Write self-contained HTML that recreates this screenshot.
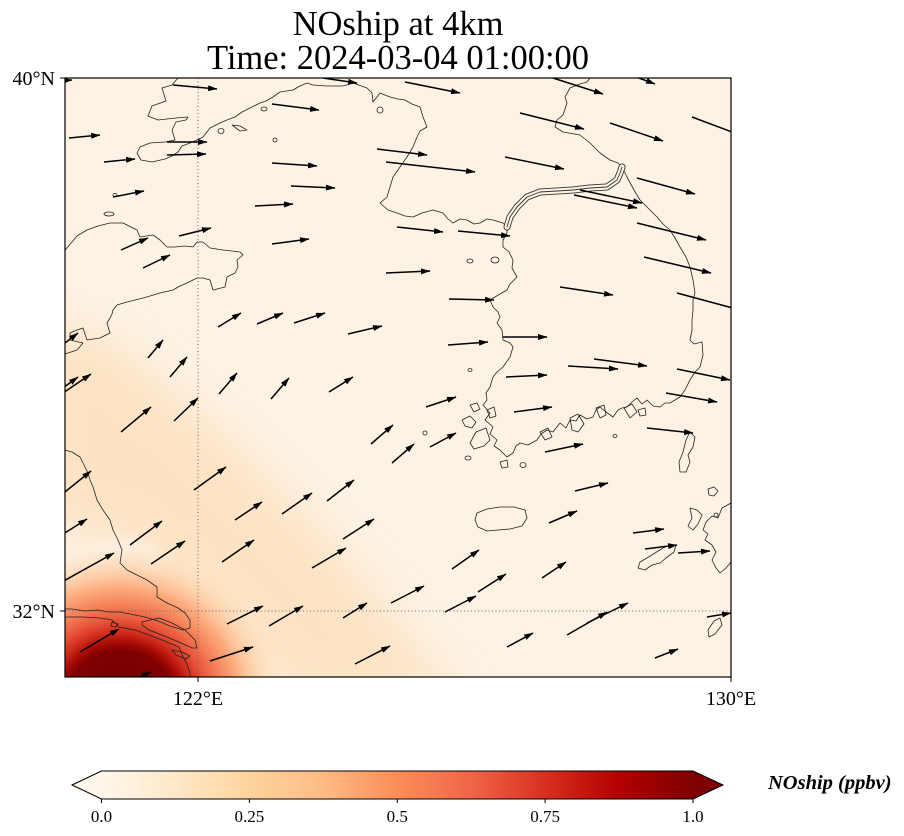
<!DOCTYPE html>
<html><head><meta charset="utf-8"><style>
html,body{margin:0;padding:0;background:#fff;}
svg{display:block;}
text{font-family:"Liberation Serif","Times New Roman",serif;fill:#000;}
</style></head><body>
<svg width="904" height="836" viewBox="0 0 904 836" xmlns="http://www.w3.org/2000/svg">
<defs>
<clipPath id="plot"><rect x="65" y="78" width="666" height="599"/></clipPath>
<filter id="blur" x="-50%" y="-50%" width="200%" height="200%"><feGaussianBlur stdDeviation="22"/></filter>
<filter id="blur2" x="-50%" y="-50%" width="200%" height="200%"><feGaussianBlur stdDeviation="6"/></filter>
<radialGradient id="hot" gradientUnits="userSpaceOnUse" cx="120" cy="705" r="150" gradientTransform="translate(120 705) scale(1.1 1.07) translate(-120 -705)">
<stop offset="0" stop-color="#700000"/>
<stop offset="0.34" stop-color="#800000"/>
<stop offset="0.39" stop-color="#a80a05"/>
<stop offset="0.45" stop-color="#cf2a1b"/>
<stop offset="0.53" stop-color="#e8553a"/>
<stop offset="0.63" stop-color="#f5835a"/>
<stop offset="0.73" stop-color="#fcab7c"/>
<stop offset="0.84" stop-color="#fdcca2" stop-opacity="0.75"/>
<stop offset="1" stop-color="#fde1be" stop-opacity="0"/>
</radialGradient>
<linearGradient id="cb" x1="101.5" y1="0" x2="693" y2="0" gradientUnits="userSpaceOnUse">
<stop offset="0" stop-color="#fff7ec"/>
<stop offset="0.125" stop-color="#fee8c8"/>
<stop offset="0.25" stop-color="#fdd49e"/>
<stop offset="0.375" stop-color="#fdbb84"/>
<stop offset="0.5" stop-color="#fc8d59"/>
<stop offset="0.625" stop-color="#ef6548"/>
<stop offset="0.75" stop-color="#d7301f"/>
<stop offset="0.875" stop-color="#b30000"/>
<stop offset="1" stop-color="#7f0000"/>
</linearGradient>
<marker id="ah" markerUnits="userSpaceOnUse" markerWidth="11" markerHeight="8" refX="9" refY="3.5" orient="auto">
<path d="M0,0.5 L9.5,3.5 L0,6.5 z" fill="#000"/>
</marker>
</defs>

<text x="398" y="35" font-size="34.5" text-anchor="middle">NOship at 4km</text>
<text x="398" y="69" font-size="34.5" text-anchor="middle">Time: 2024-03-04 01:00:00</text>

<g clip-path="url(#plot)">
<rect x="65" y="78" width="666" height="599" fill="#fdf2e4"/>
<polygon points="30,320 110,340 230,440 330,540 460,700 290,700 200,610 110,540 30,520" fill="#fde2c1" opacity="0.9" filter="url(#blur)"/>
<ellipse cx="125" cy="560" rx="35" ry="22" fill="#fdf0e1" opacity="0.8" filter="url(#blur2)"/>
<rect x="0" y="520" width="320" height="200" fill="url(#hot)"/>

<line x1="198" y1="78" x2="198" y2="677" stroke="#666" stroke-width="1" stroke-dasharray="1,2.5"/>
<line x1="65" y1="611" x2="731" y2="611" stroke="#666" stroke-width="1" stroke-dasharray="1,2.5"/>

<g fill="none" stroke="#222" stroke-width="0.8" stroke-linejoin="round">
<path d="M178,78 L172,85 L162,88 L166,101 L152,106 L148,116 L158,120 L176,118 L188,117 L186,120 L176,122 L172,130 L175,140 L165,142 L150,143 L140,147 L137,153 L141,160 L152,162 L165,159 L172,156 L178,152 L182,146 L190,143 L197,140 L203,137 L210,128 L220,123 L227,120 L235,117 L242,112 L250,108 L260,103 L266,101 L273,97 L280,92 L293,90 L300,86 L307,83 L313,85 L327,86 L343,86 L353,83 L367,88 L372,93 L373,102 L380,93 L390,97 L398,99 L405,100 L412,104 L420,107 L423,117 L427,127 L420,131 L417,137 L413,147 L410,152 L407,157 L400,167 L393,177 L390,187 L387,197 L380,203 L388,210 L397,213 L405,216 L413,217 L422,213 L433,210 L443,213 L448,219 L453,223 L460,219 L467,220 L474,224 L480,223 L487,219 L493,220 L503,223 L507,227"/>
<path d="M507,227 L507,233 L503,240 L503,247 L509,252 L513,260 L512,268 L517,277 L510,284 L507,290 L500,294 L495,297 L490,300 L493,307 L498,312 L500,317 L497,323 L502,330 L503,340 L510,343 L513,347 L510,357 L503,367 L497,372 L493,377 L490,387 L486,393 L487,400 L483,405 L490,413 L485,420 L493,427 L490,434 L497,440 L494,446 L500,450 L507,457 L513,453 L516,446 L520,443 L528,445 L537,440 L541,434 L547,430 L553,432 L560,423 L566,428 L570,420 L576,421 L580,415 L587,419 L593,417 L596,410 L600,407 L606,412 L613,417 L618,410 L622,408 L627,407 L632,402 L637,398 L642,404 L647,400 L653,406 L660,407 L665,403 L670,403 L675,400 L680,397 L685,390 L690,380 L695,372 L700,367 L703,355 L702,342 L694,344 L690,340 L692,330 L692,320 L693,310 L693,300 L695,293 L693,280 L690,267 L686,257 L680,247 L675,238 L670,230 L663,224 L657,217 L650,210 L640,200 L634,190 L627,177 L622,167 L618,163 L610,160 L600,153 L590,143 L580,135 L563,132 L555,127 L557,120 L563,115 L567,103 L565,97 L570,88 L580,84 L587,82 L590,78"/>
<path d="M65,250 L72,242 L77,236 L87,230 L98,226 L110,223 L123,223 L137,230 L140,237 L153,235 L160,240 L167,247 L175,247 L185,246 L193,247 L197,242 L203,242 L210,248 L223,250 L232,251 L240,252 L243,255 L237,260 L238,267 L235,273 L227,277 L225,287 L213,290 L210,280 L203,278 L197,278 L187,283 L180,286 L173,290 L160,293 L150,296 L143,298 L127,302 L117,305 L113,310 L112,314 L110,318 L107,323 L110,333 L100,338 L87,340 L83,328 L77,330 L70,333 L70,340 L83,343 L77,350 L65,354"/>
<path d="M65,450 L72,452 L80,457 L83,463 L88,473 L90,480 L93,487 L97,500 L103,510 L110,520 L113,530 L118,540 L122,550 L120,563 L127,570 L137,575 L147,580 L157,587 L157,597 L167,603 L178,608 L185,613 L190,620 L190,628 L183,630 L170,626 L158,621 L145,617 L130,614 L120,612 L108,612 L98,610 L85,611 L72,609 L65,609"/>
<path d="M65,617 L82,617 L100,618 L112,620 L119,627 L135,630 L149,635 L162,640 L179,647 L183,657 L187,664 L189,670 L191,678"/>
<path d="M142,622 L159,618 L172,623 L185,630 L195,640 L197,648 L192,648 L179,642 L162,635 L149,630 L142,625 Z"/>
<path d="M112,622 L118,624 L116,627 L111,626 Z"/>
<path d="M172,650 L182,652 L190,656 L186,659 L176,655 Z"/>
<path d="M477,513 L487,509 L500,507 L514,507 L525,510 L527,518 L522,526 L510,529 L498,530 L487,531 L478,527 L475,520 Z"/>
<path d="M690,432 L695,437 L693,447 L688,455 L690,462 L686,472 L680,472 L679,462 L683,452 L686,440 Z"/>
<path d="M731,503 L722,508 L718,518 L712,516 L706,522 L703,530 L708,534 L705,540 L712,545 L716,552 L712,560 L716,568 L720,573 L726,568 L731,562"/>
<path d="M690,508 L697,510 L702,515 L698,524 L693,530 L688,526 L692,518 Z"/>
<path d="M640,562 L647,558 L655,553 L663,548 L670,545 L676,545 L674,552 L666,558 L660,563 L652,565 L645,570 L638,568 Z"/>
<path d="M708,489 L714,487 L718,491 L714,496 L709,495 Z"/>
<path d="M714,621 L720,618 L722,625 L715,634 L709,637 L708,630 Z"/>
<ellipse cx="716" cy="515" rx="2" ry="2"/>
<ellipse cx="109" cy="214" rx="5" ry="2"/>
<ellipse cx="115" cy="195" rx="2" ry="1.5"/>
<ellipse cx="221" cy="131" rx="3" ry="2.5"/>
<path d="M232,125 L240,126 L247,130 L240,131 Z"/>
<ellipse cx="264" cy="109" rx="3" ry="2"/>
<ellipse cx="275" cy="140" rx="2" ry="2"/>
<ellipse cx="380" cy="110" rx="3" ry="3"/>
<ellipse cx="470" cy="261" rx="3" ry="2"/>
<ellipse cx="495" cy="260" rx="4" ry="3"/>
<ellipse cx="470" cy="370" rx="2" ry="1.5"/>
<path d="M470,405 L477,403 L480,409 L474,412 Z"/>
<path d="M462,420 L470,416 L476,422 L472,428 L465,426 Z"/>
<path d="M476,432 L486,428 L490,440 L484,446 L474,449 L470,443 Z"/>
<path d="M487,410 L494,407 L496,416 L490,418 Z"/>
<ellipse cx="468" cy="458" rx="3" ry="2"/>
<ellipse cx="425" cy="433" rx="2" ry="2"/>
<path d="M500,462 L507,460 L508,467 L502,468 Z"/>
<ellipse cx="523" cy="465" rx="3" ry="2.5"/>
<path d="M540,432 L548,428 L552,437 L545,440 Z"/>
<path d="M570,418 L578,414 L584,424 L578,432 L572,430 Z"/>
<path d="M596,408 L604,405 L606,415 L600,418 Z"/>
<path d="M624,408 L632,404 L637,412 L630,418 Z"/>
<path d="M638,410 L645,408 L646,415 L640,416 Z"/>
<ellipse cx="615" cy="436" rx="2" ry="1.5"/>
</g>
<g fill="none" stroke-linejoin="round" stroke-linecap="round">
<path d="M507,227 L510,217 L517,207 L527,197 L540,192 L557,191 L573,190 L590,188 L607,187 L617,180 L620,173 L622,167" stroke="#333" stroke-width="7"/>
<path d="M507,227 L510,217 L517,207 L527,197 L540,192 L557,191 L573,190 L590,188 L607,187 L617,180 L620,173 L622,167" stroke="#fdf2e4" stroke-width="5.2"/>
<path d="M507,227 L510,217 L517,207 L527,197 L540,192 L557,191 L573,190 L590,188 L607,187 L617,180 L620,173 L622,167" stroke="#333" stroke-width="0.9"/>
</g>

<g stroke="#000" stroke-width="1.5" fill="none" marker-end="url(#ah)">
<line x1="173" y1="85" x2="217" y2="89"/>
<line x1="272" y1="104" x2="319" y2="110"/>
<line x1="323" y1="78" x2="357" y2="83"/>
<line x1="405" y1="82" x2="460" y2="93"/>
<line x1="553" y1="78" x2="603" y2="94"/>
<line x1="628" y1="74" x2="655" y2="84"/>
<line x1="40" y1="82" x2="72" y2="80"/>
<line x1="69" y1="138" x2="100" y2="135"/>
<line x1="167" y1="142" x2="207" y2="142"/>
<line x1="167" y1="155" x2="206" y2="154"/>
<line x1="104" y1="162" x2="135" y2="159"/>
<line x1="113" y1="197" x2="144" y2="191"/>
<line x1="272" y1="163" x2="317" y2="166"/>
<line x1="291" y1="186" x2="335" y2="188"/>
<line x1="255" y1="206" x2="293" y2="204"/>
<line x1="179" y1="236" x2="211" y2="228"/>
<line x1="121" y1="250" x2="148" y2="238"/>
<line x1="143" y1="268" x2="170" y2="255"/>
<line x1="272" y1="244" x2="309" y2="239"/>
<line x1="377" y1="149" x2="427" y2="155"/>
<line x1="386" y1="162" x2="475" y2="172"/>
<line x1="505" y1="157" x2="564" y2="169"/>
<line x1="520" y1="113" x2="584" y2="129"/>
<line x1="610" y1="123" x2="663" y2="141"/>
<line x1="692" y1="117" x2="740" y2="135"/>
<line x1="637" y1="178" x2="695" y2="194"/>
<line x1="580" y1="190" x2="642" y2="203"/>
<line x1="574" y1="195" x2="637" y2="208"/>
<line x1="637" y1="223" x2="706" y2="240"/>
<line x1="644" y1="257" x2="711" y2="273"/>
<line x1="677" y1="293" x2="740" y2="310"/>
<line x1="560" y1="287" x2="613" y2="295"/>
<line x1="397" y1="227" x2="443" y2="232"/>
<line x1="458" y1="231" x2="510" y2="236"/>
<line x1="386" y1="273" x2="430" y2="271"/>
<line x1="449" y1="299" x2="494" y2="300"/>
<line x1="218" y1="327" x2="241" y2="313"/>
<line x1="257" y1="324" x2="283" y2="313"/>
<line x1="294" y1="323" x2="325" y2="313"/>
<line x1="348" y1="334" x2="382" y2="326"/>
<line x1="148" y1="358" x2="163" y2="340"/>
<line x1="170" y1="377" x2="187" y2="357"/>
<line x1="60" y1="390" x2="78" y2="377"/>
<line x1="60" y1="395" x2="91" y2="374"/>
<line x1="60" y1="347" x2="78" y2="333"/>
<line x1="219" y1="394" x2="237" y2="373"/>
<line x1="271" y1="399" x2="289" y2="378"/>
<line x1="329" y1="392" x2="353" y2="377"/>
<line x1="121" y1="432" x2="151" y2="407"/>
<line x1="174" y1="421" x2="198" y2="398"/>
<line x1="371" y1="444" x2="393" y2="425"/>
<line x1="392" y1="463" x2="414" y2="444"/>
<line x1="60" y1="496" x2="91" y2="471"/>
<line x1="194" y1="490" x2="226" y2="467"/>
<line x1="235" y1="520" x2="262" y2="502"/>
<line x1="282" y1="514" x2="312" y2="493"/>
<line x1="327" y1="501" x2="354" y2="480"/>
<line x1="448" y1="345" x2="488" y2="342"/>
<line x1="503" y1="337" x2="547" y2="337"/>
<line x1="506" y1="377" x2="547" y2="375"/>
<line x1="568" y1="366" x2="618" y2="369"/>
<line x1="594" y1="359" x2="647" y2="366"/>
<line x1="677" y1="369" x2="730" y2="380"/>
<line x1="666" y1="393" x2="717" y2="402"/>
<line x1="426" y1="407" x2="456" y2="397"/>
<line x1="514" y1="412" x2="552" y2="407"/>
<line x1="430" y1="447" x2="456" y2="433"/>
<line x1="647" y1="428" x2="693" y2="433"/>
<line x1="545" y1="452" x2="583" y2="444"/>
<line x1="575" y1="491" x2="608" y2="483"/>
<line x1="549" y1="523" x2="577" y2="511"/>
<line x1="633" y1="533" x2="664" y2="529"/>
<line x1="645" y1="549" x2="677" y2="545"/>
<line x1="678" y1="553" x2="710" y2="551"/>
<line x1="452" y1="569" x2="479" y2="550"/>
<line x1="542" y1="578" x2="566" y2="562"/>
<line x1="478" y1="592" x2="506" y2="574"/>
<line x1="391" y1="603" x2="424" y2="586"/>
<line x1="445" y1="612" x2="476" y2="596"/>
<line x1="343" y1="618" x2="367" y2="603"/>
<line x1="343" y1="539" x2="374" y2="519"/>
<line x1="567" y1="635" x2="607" y2="612"/>
<line x1="587" y1="623" x2="628" y2="603"/>
<line x1="507" y1="647" x2="533" y2="633"/>
<line x1="655" y1="658" x2="678" y2="649"/>
<line x1="707" y1="617" x2="731" y2="613"/>
<line x1="355" y1="664" x2="390" y2="646"/>
<line x1="60" y1="536" x2="87" y2="519"/>
<line x1="130" y1="545" x2="162" y2="521"/>
<line x1="60" y1="583" x2="114" y2="553"/>
<line x1="151" y1="564" x2="185" y2="541"/>
<line x1="222" y1="562" x2="254" y2="540"/>
<line x1="312" y1="568" x2="346" y2="548"/>
<line x1="227" y1="624" x2="263" y2="606"/>
<line x1="269" y1="626" x2="303" y2="606"/>
<line x1="80" y1="652" x2="119" y2="629"/>
<line x1="210" y1="661" x2="253" y2="647"/>
<line x1="125" y1="684" x2="151" y2="672"/>
</g>
</g>

<rect x="65" y="78" width="666" height="599" fill="none" stroke="#000" stroke-width="1.2"/>
<g stroke="#000" stroke-width="1">
<line x1="60" y1="78" x2="65" y2="78"/>
<line x1="60" y1="611" x2="65" y2="611"/>
<line x1="198" y1="677" x2="198" y2="682"/>
<line x1="731" y1="677" x2="731" y2="682"/>
</g>
<text x="55" y="85" font-size="20" text-anchor="end">40°N</text>
<text x="55" y="618" font-size="20" text-anchor="end">32°N</text>
<text x="198" y="705" font-size="20" text-anchor="middle">122°E</text>
<text x="731" y="705" font-size="20" text-anchor="middle">130°E</text>

<polygon points="72,785 101.5,771 101.5,799" fill="#fff7ec"/>
<polygon points="693,771 723,785 693,799" fill="#7f0000"/>
<rect x="101.5" y="771" width="591.5" height="28" fill="url(#cb)"/>
<path d="M72,785 L101.5,771 L693,771 L723,785 L693,799 L101.5,799 Z" fill="none" stroke="#000" stroke-width="1"/>
<g stroke="#000" stroke-width="1">
<line x1="101.5" y1="799" x2="101.5" y2="803"/>
<line x1="249.4" y1="799" x2="249.4" y2="803"/>
<line x1="397.3" y1="799" x2="397.3" y2="803"/>
<line x1="545.1" y1="799" x2="545.1" y2="803"/>
<line x1="693" y1="799" x2="693" y2="803"/>
</g>
<g font-size="17" text-anchor="middle">
<text x="101.5" y="822">0.0</text>
<text x="249.4" y="822">0.25</text>
<text x="397.3" y="822">0.5</text>
<text x="545.1" y="822">0.75</text>
<text x="693" y="822">1.0</text>
</g>
<text x="768" y="789" font-size="20.5" font-weight="bold" font-style="italic">NOship (ppbv)</text>
</svg>
</body></html>
